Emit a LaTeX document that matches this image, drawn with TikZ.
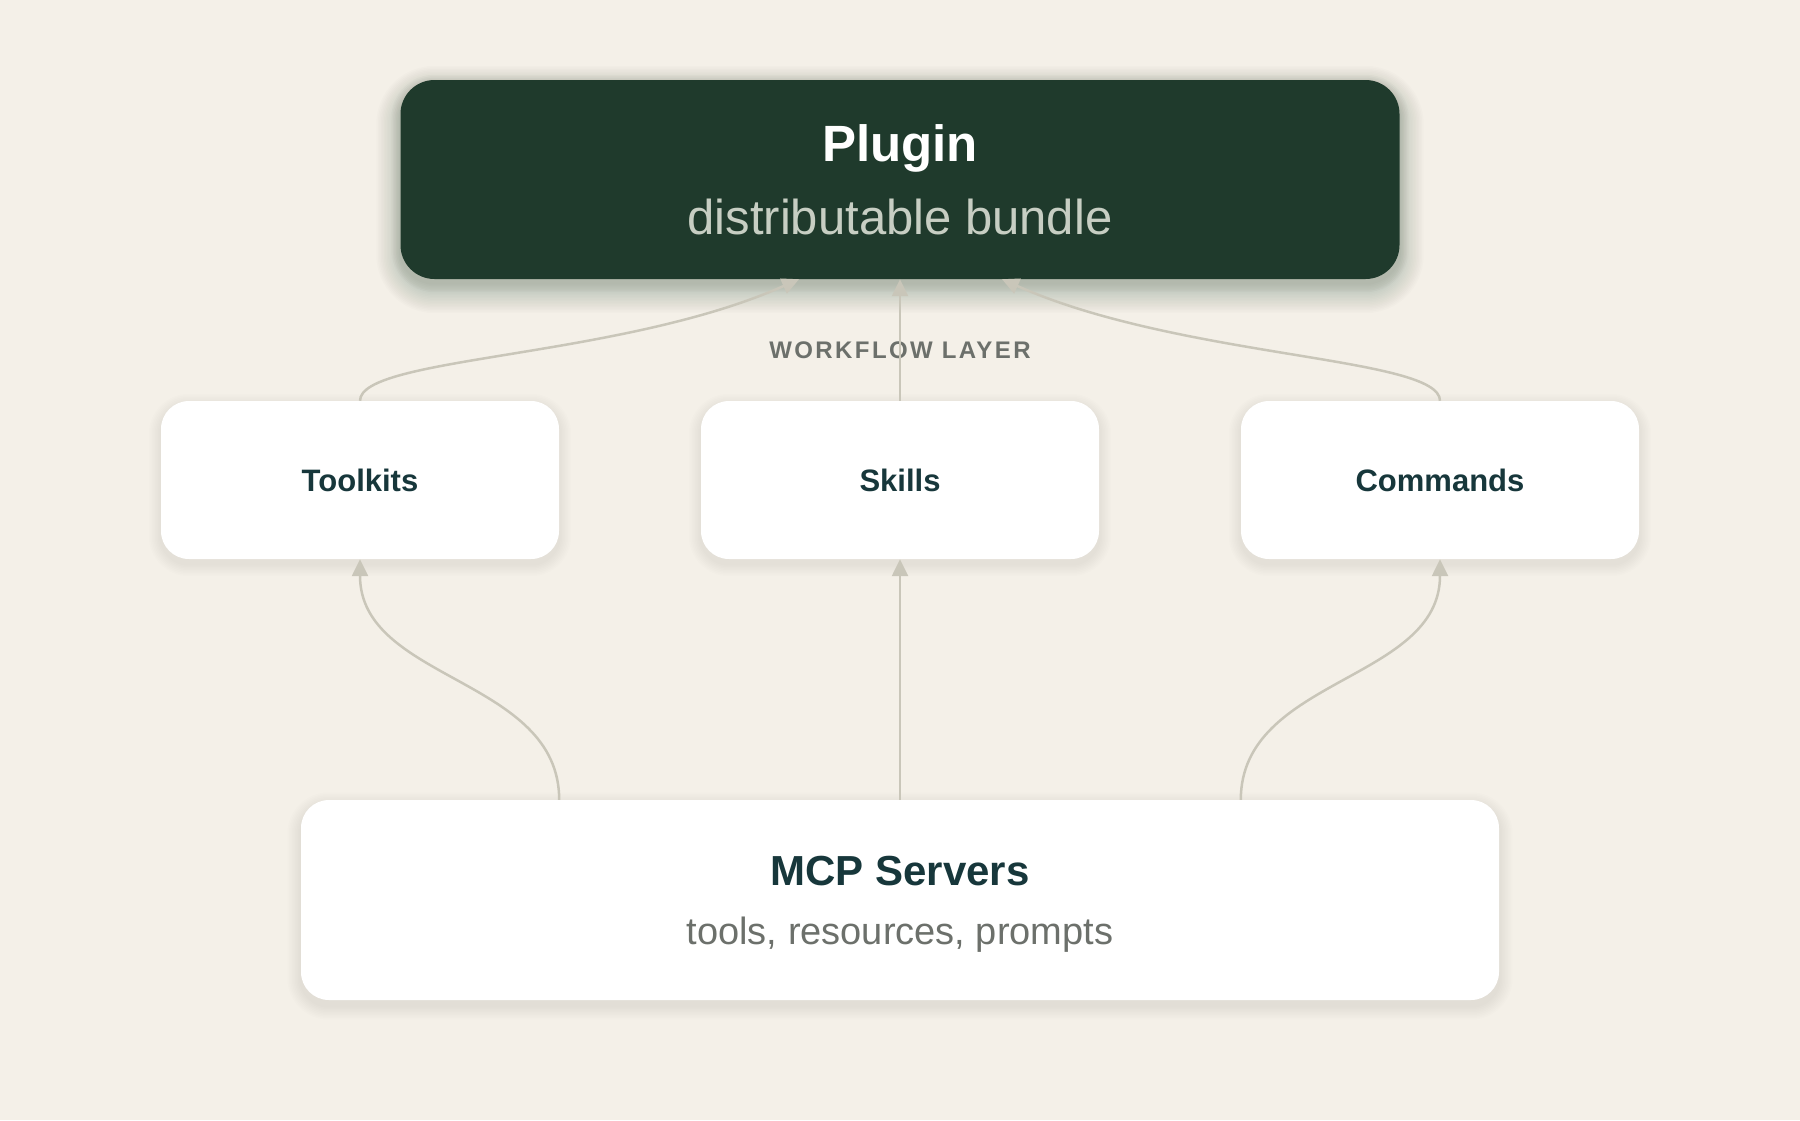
\documentclass[tikz,border=0pt]{standalone}
\usepackage{fontspec}
\setmainfont{Liberation Sans}
\newfontfamily\trackfont[LetterSpace=10]{Liberation Sans}
\usetikzlibrary{arrows.meta}

\definecolor{bgcream}{HTML}{F4F0E8}
\definecolor{pluginfill}{HTML}{1F3A2C}
\definecolor{subgreen}{HTML}{C7CEC3}
\definecolor{labelteal}{HTML}{17373B}
\definecolor{greytext}{HTML}{6C706B}
\definecolor{edgegrey}{HTML}{C9C6B9}
\definecolor{shadetint}{HTML}{3A3020}

\pgfdeclarelayer{back}
\pgfdeclarelayer{shade}
\pgfsetlayers{back,shade,main}

% soft shadow: node, yshift, steps, opacity per step, corner radius, colour
\newcommand\softshadow[6]{%
  \foreach \k in {1,...,#3}{
    \pgfmathsetmacro\grow{\k*1.5}
    \pgfmathsetmacro\rad{#5+\grow}
    \pgfmathsetmacro\ytop{#2+\grow}
    \pgfmathsetmacro\ybot{#2-\grow}
    \fill[#6, opacity=#4, rounded corners=\rad pt]
      ([shift={(-\grow pt,\ytop pt)}]#1.north west) rectangle
      ([shift={(\grow pt,\ybot pt)}]#1.south east);
  }}

\begin{document}
\begin{tikzpicture}[x=1pt, y=1pt, node distance=540pt,
  flow/.style={draw=edgegrey, line width=2.5pt, -{Triangle[length=17pt,width=16pt]}},
  plugin box/.style={fill=pluginfill, rounded corners=34pt, minimum width=999pt,
    minimum height=199pt, inner sep=0pt, align=center, text=white,
    font=\fontsize{49}{73}\selectfont},
  layer box/.style={fill=white, rounded corners=28pt, minimum width=398pt,
    minimum height=158pt, inner sep=0pt, text=labelteal,
    font=\fontsize{31}{37}\selectfont\bfseries},
  base box/.style={fill=white, rounded corners=28pt, minimum width=1198pt,
    minimum height=200pt, inner sep=0pt, align=center, text=labelteal,
    text depth=-3pt, font=\fontsize{38}{59}\selectfont}]

  \node[plugin box] (plugin) at (900,-179.5)
    {\fontsize{51}{73}\selectfont\bfseries Plugin\\
     \fontsize{49}{73}\selectfont\mdseries\color{subgreen}distributable bundle};
  \node[text=greytext, font=\trackfont\fontsize{24}{24}\selectfont\bfseries] (layerlabel)
    [node distance=170.5pt, below of=plugin] {WORKFLOW LAYER};
  \node[layer box] (skills) [node distance=300.5pt, below of=plugin] {Skills};
  \node[layer box] (toolkits) [left of=skills] {Toolkits};
  \node[layer box] (commands) [right of=skills] {Commands};
  \node[base box] (mcp) [node distance=420pt, below of=skills]
    {\fontsize{42}{59}\selectfont\bfseries MCP Servers\\
     \fontsize{38}{59}\selectfont\mdseries\color{greytext}tools, resources, prompts};

  % canvas and shadows
  \begin{pgfonlayer}{back}
    \fill[bgcream] (0,0) rectangle (1800,-1120);
  \end{pgfonlayer}
  \begin{pgfonlayer}{shade}
    \softshadow{plugin}{-10}{16}{0.011}{34}{pluginfill}
    \softshadow{plugin}{-4}{6}{0.02}{34}{shadetint}
    \foreach \layername in {toolkits, skills, commands}
      {\softshadow{\layername}{-5}{8}{0.006}{28}{shadetint}}
    \softshadow{mcp}{-6}{9}{0.006}{28}{shadetint}
  \end{pgfonlayer}

  % free ends on the plugin and server edges
  \coordinate (plugin-left) at ([xshift=-101pt]plugin.south);
  \coordinate (plugin-right) at ([xshift=102pt]plugin.south);
  \coordinate (mcp-left) at (mcp.north -| toolkits.south east);
  \coordinate (mcp-right) at (mcp.north -| commands.south west);

  \path[every edge/.style={flow}]
    (mcp-left) edge [out=90, in=-90] (toolkits.south)
    (mcp.north) edge (skills.south)
    (mcp-right) edge [out=90, in=-90] (commands.south)
    (toolkits.north) edge [out=90, in=-156, out looseness=0.25, in looseness=1.1] (plugin-left)
    (skills.north) edge (plugin.south)
    (commands.north) edge [out=90, in=-24, out looseness=0.25, in looseness=1.1] (plugin-right);
\end{tikzpicture}
\end{document}
